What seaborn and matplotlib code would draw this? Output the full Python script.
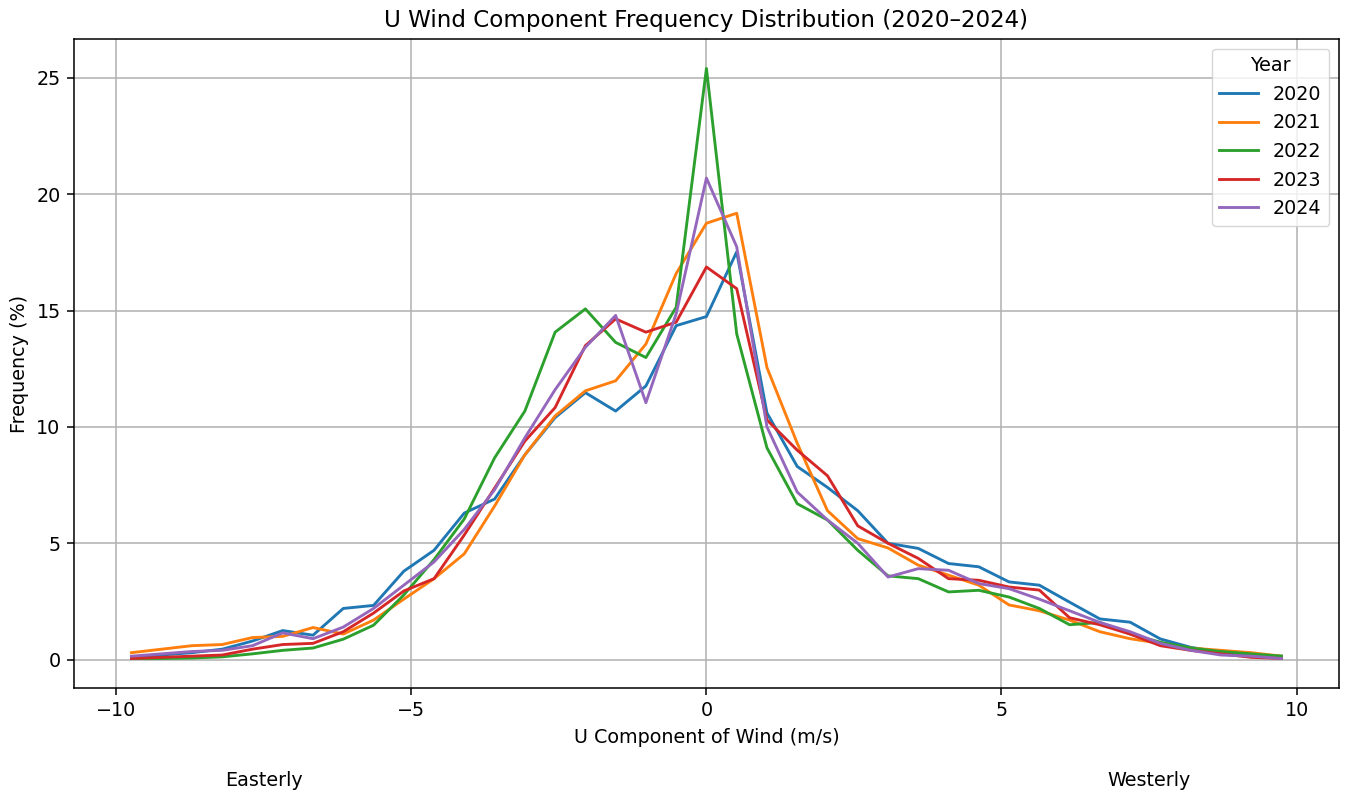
import numpy as np
import pandas as pd
import matplotlib
matplotlib.use("Agg")
import matplotlib.pyplot as plt
import seaborn as sns

# 39 histogram bins over [-10, 10] m/s -> bin centres
bin_edges = np.linspace(-10, 10, 40)
u_centres = (bin_edges[:-1] + bin_edges[1:]) / 2

years = ["2020", "2021", "2022", "2023", "2024"]

freq_2020 = [0.10, 0.20, 0.30, 0.45, 0.80, 1.25, 1.05, 2.20, 2.33, 3.80,
             4.70, 6.30, 6.90, 8.80, 10.40, 11.47, 10.68, 11.76, 14.35, 14.74,
             17.52, 10.60, 8.30, 7.40, 6.40, 5.00, 4.78, 4.13, 3.99, 3.34,
             3.20, 2.47, 1.75, 1.61, 0.89, 0.53, 0.32, 0.20, 0.15]
freq_2021 = [0.30, 0.45, 0.60, 0.65, 0.95, 1.00, 1.38, 1.10, 1.70, 2.60,
             3.48, 4.55, 6.60, 8.80, 10.47, 11.55, 11.98, 13.56, 16.59, 18.75,
             19.18, 12.55, 9.30, 6.40, 5.20, 4.80, 4.06, 3.63, 3.20, 2.35,
             2.10, 1.70, 1.20, 0.90, 0.70, 0.50, 0.40, 0.30, 0.15]
freq_2022 = [0.05, 0.05, 0.07, 0.12, 0.25, 0.40, 0.50, 0.88, 1.48, 2.78,
             4.30, 6.05, 8.67, 10.68, 14.07, 15.07, 13.63, 12.98, 15.14, 25.40,
             14.00, 9.10, 6.70, 6.00, 4.70, 3.60, 3.48, 2.91, 2.98, 2.69,
             2.20, 1.50, 1.60, 1.10, 0.75, 0.50, 0.35, 0.25, 0.15]
freq_2023 = [0.05, 0.10, 0.15, 0.20, 0.45, 0.65, 0.70, 1.20, 2.00, 2.95,
             3.48, 5.36, 7.37, 9.39, 10.83, 13.49, 14.64, 14.07, 14.50, 16.87,
             15.94, 10.30, 9.00, 7.90, 5.75, 5.00, 4.35, 3.48, 3.41, 3.12,
             2.99, 1.80, 1.50, 1.10, 0.60, 0.40, 0.25, 0.10, 0.05]
freq_2024 = [0.15, 0.25, 0.35, 0.40, 0.60, 1.15, 0.90, 1.40, 2.20, 3.20,
             4.20, 5.60, 7.30, 9.53, 11.60, 13.42, 14.79, 11.04, 14.86, 20.69,
             17.74, 10.00, 7.20, 6.00, 5.00, 3.55, 3.91, 3.84, 3.27, 3.05,
             2.60, 2.10, 1.60, 1.20, 0.70, 0.40, 0.20, 0.15, 0.05]

series = [freq_2020, freq_2021, freq_2022, freq_2023, freq_2024]
df = pd.concat(
    [pd.DataFrame({"U": u_centres, "Frequency": vals, "Year": yr})
     for yr, vals in zip(years, series)],
    ignore_index=True,
)

S = 1.38  # overall scale of the reference rendering
plt.rcParams.update({
    "axes.linewidth": 0.8 * S,
    "xtick.major.width": 0.8 * S,
    "ytick.major.width": 0.8 * S,
    "xtick.major.size": 3.5 * S,
    "ytick.major.size": 3.5 * S,
    "xtick.major.pad": 3.5 * S,
    "ytick.major.pad": 3.5 * S,
})

fig = plt.figure(figsize=(13.47, 7.95), dpi=100)
ax = fig.add_axes([0.0549, 0.1346, 0.9391, 0.8164])

sns.lineplot(data=df, x="U", y="Frequency", hue="Year",
             hue_order=years, palette="tab10", linewidth=1.5 * S, ax=ax)

ax.grid(True, color="#b0b0b0", linewidth=0.8 * S)
ax.set_axisbelow(True)
ax.set_xticks([-10, -5, 0, 5, 10])
ax.set_yticks([0, 5, 10, 15, 20, 25])
ax.tick_params(labelsize=10 * S)
ax.set_title("U Wind Component Frequency Distribution (2020\u20132024)",
             fontsize=12 * S, pad=6 * S)
ax.set_xlabel("U Component of Wind (m/s)", fontsize=10 * S, labelpad=4 * S)
ax.set_ylabel("Frequency (%)", fontsize=10 * S, labelpad=4 * S)

ax.legend(title="Year", loc="upper right", fontsize=10 * S,
          title_fontsize=10 * S)

xt = ax.get_xaxis_transform()
ax.text(-7.5, -0.142, "Easterly", transform=xt, ha="center", va="center",
        fontsize=10 * S)
ax.text(7.5, -0.142, "Westerly", transform=xt, ha="center", va="center",
        fontsize=10 * S)

fig.savefig("out.png", dpi=100)
